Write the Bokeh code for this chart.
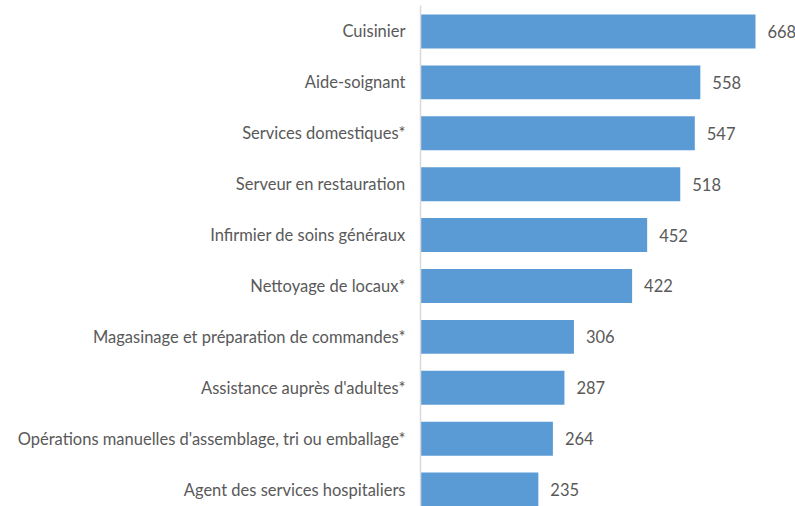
from bokeh.plotting import figure
from bokeh.models import ColumnDataSource, Range1d, FixedTicker, LabelSet
from bokeh.core.properties import value
from bokeh.embed import file_html
from bokeh.resources import INLINE

categories = [
    "Cuisinier",
    "Aide-soignant",
    "Services domestiques*",
    "Serveur en restauration",
    "Infirmier de soins généraux",
    "Nettoyage de locaux*",
    "Magasinage et préparation de commandes*",
    "Assistance auprès d'adultes*",
    "Opérations manuelles d'assemblage, tri ou emballage*",
    "Agent des services hospitaliers",
]
values = [668, 558, 547, 518, 452, 422, 306, 287, 264, 235]

n = len(categories)
ypos = [n - 1 - i for i in range(n)]
src = ColumnDataSource(dict(y=ypos, v=values, lab=[str(v) for v in values]))

TXT = "#595959"
FONT = "Lato"
FS = "16.5px"

p = figure(width=795, height=506, output_backend="svg", toolbar_location=None,
           x_range=Range1d(0, 747.8), y_range=Range1d(-0.333, 9.51),
           min_border_left=420, min_border_right=0, min_border_top=5, min_border_bottom=0)
p.hbar(y="y", right="v", left=0, height=0.667, source=src,
       fill_color="#5b9bd5", line_color=None)

labels = LabelSet(x="v", y="y", text="lab", source=src, x_offset=12,
                  text_baseline="middle", text_align="left",
                  text_font=value(FONT), text_font_size=value(FS), text_color=value(TXT))
p.add_layout(labels)

p.xaxis.visible = False
p.xgrid.visible = False
p.ygrid.visible = False
p.outline_line_color = None

ax = p.yaxis[0]
ax.ticker = FixedTicker(ticks=ypos)
ax.major_label_overrides = {y: c for y, c in zip(ypos, categories)}
ax.major_tick_line_color = None
ax.minor_tick_line_color = None
ax.major_tick_out = 0
ax.major_tick_in = 0
ax.axis_line_color = "#d9d9d9"
ax.axis_line_width = 1.5
ax.major_label_standoff = 15
ax.major_label_text_font = FONT
ax.major_label_text_font_size = FS
ax.major_label_text_color = TXT

open("out.html", "w").write(file_html(p, INLINE))
